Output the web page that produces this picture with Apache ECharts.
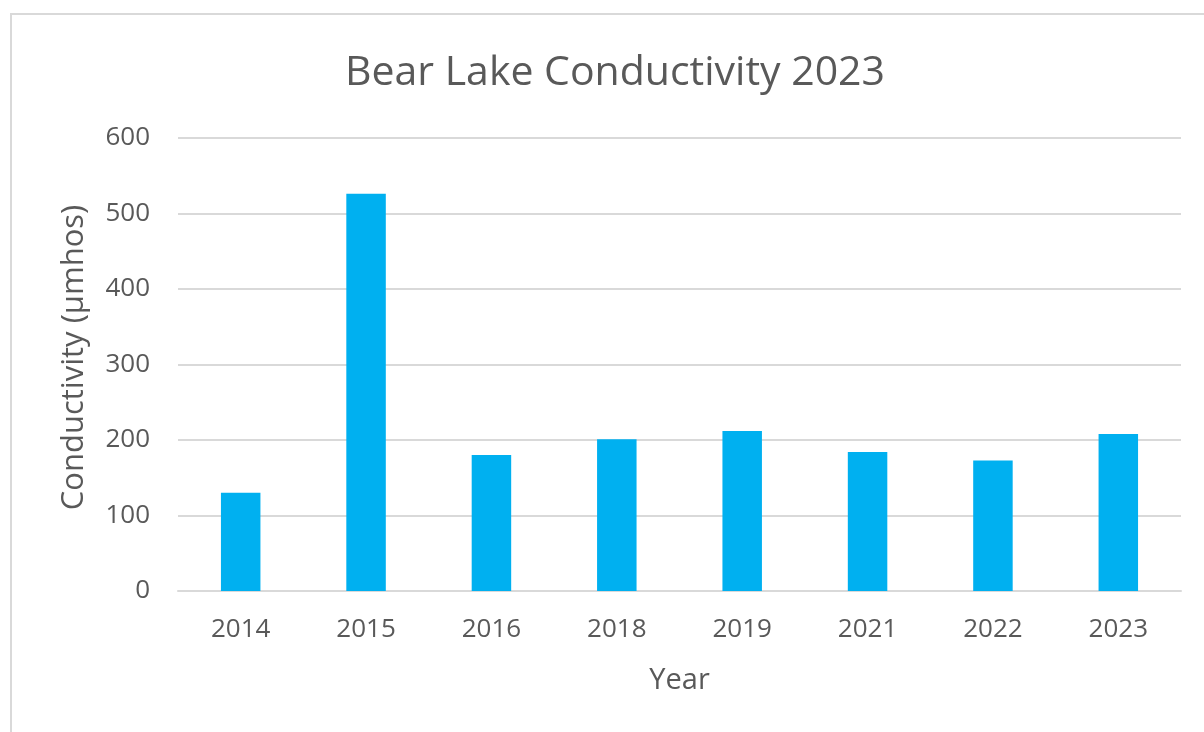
<!DOCTYPE html>
<html>
<head>
<meta charset="utf-8">
<script src="https://cdn.jsdelivr.net/npm/echarts@6/dist/echarts.min.js"></script>
<style>
  html, body { margin: 0; padding: 0; background: #fff; overflow: hidden; }
  #frame {
    position: absolute; left: 10px; top: 13px;
    width: 1250px; height: 800px;
    border: 2px solid #d9d9d9; box-sizing: border-box;
  }
  #chart { position: absolute; left: 0; top: 0; width: 1204px; height: 732px; }
</style>
</head>
<body>
<div id="frame"></div>
<div id="chart"></div>
<script>
// Bear Lake conductivity by year
const years = ['2014', '2015', '2016', '2018', '2019', '2021', '2022', '2023'];
const conductivity = [130, 526, 180, 201, 212, 184, 173, 208];
const yTicks = [0, 100, 200, 300, 400, 500, 600];

const textColor = '#595959';
const fontFamily = '"Open Sans", "Noto Sans", sans-serif';

let chart = echarts.init(document.getElementById('chart'), null, {renderer: 'canvas'});
chart.setOption({
    animation: false,
    backgroundColor: 'transparent',
    title: {
        text: 'Bear Lake Conductivity 2023',
        left: 610,
        top: 48,
        textAlign: 'center',
        textStyle: {color: textColor, fontSize: 41, fontWeight: 'normal', fontFamily: fontFamily}
    },
    grid: {left: 178, right: 23, top: 138, bottom: 141, containLabel: false},
    xAxis: {
        type: 'category',
        data: years,
        name: 'Year',
        nameLocation: 'middle',
        nameGap: 75,
        nameTextStyle: {color: textColor, fontSize: 29, fontFamily: fontFamily},
        axisLine: {show: true, lineStyle: {color: '#d9d9d9', width: 2}},
        axisTick: {show: false},
        axisLabel: {color: textColor, fontSize: 26, fontFamily: fontFamily, margin: 26}
    },
    yAxis: {
        type: 'value',
        min: yTicks[0],
        max: yTicks[yTicks.length - 1],
        interval: 100,
        name: 'Conductivity (µmhos)',
        nameLocation: 'middle',
        nameGap: 88,
        nameTextStyle: {color: textColor, fontSize: 31, fontFamily: fontFamily, padding: [0, 0, 0, 14]},
        axisLine: {show: false},
        axisTick: {show: false},
        axisLabel: {color: textColor, fontSize: 26, fontFamily: fontFamily, margin: 28},
        splitLine: {lineStyle: {color: '#d9d9d9', width: 2}}
    },
    series: [{
        type: 'bar',
        data: conductivity,
        barWidth: '31.5%',
        itemStyle: {color: '#00b0f0'}
    }]
});
</script>
</body>
</html>
